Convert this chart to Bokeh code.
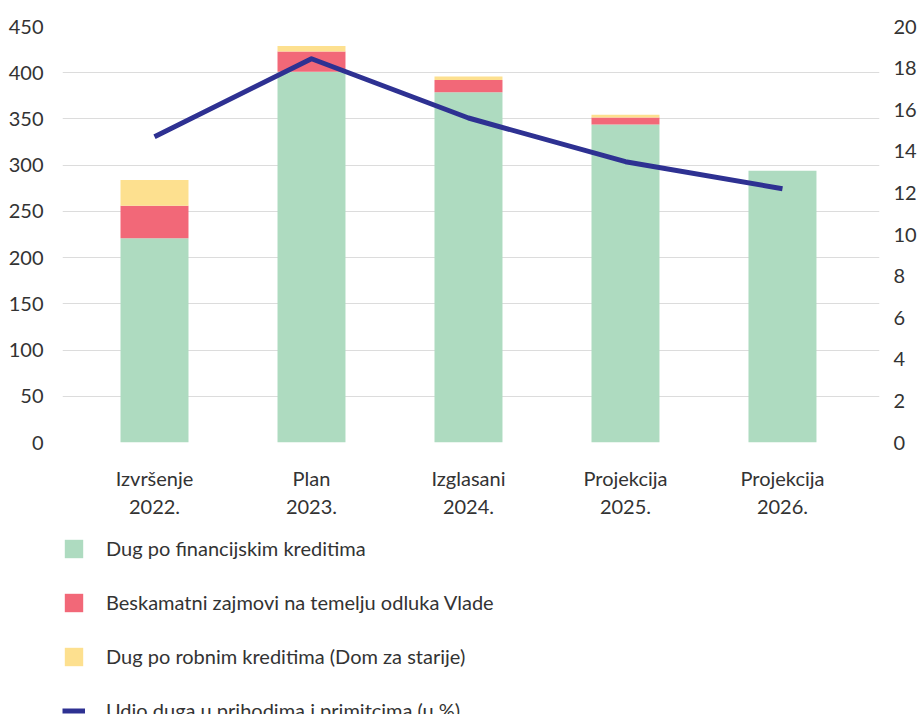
from bokeh.plotting import figure
from bokeh.layouts import column
from bokeh.models import (Range1d, LinearAxis, FixedTicker, Legend, LegendItem)
from bokeh.embed import file_html
from bokeh.resources import INLINE

categories = ["Izvršenje\n2022.", "Plan\n2023.", "Izglasani\n2024.", "Projekcija\n2025.", "Projekcija\n2026."]
financijski = [221, 401, 379, 344, 294]
beskamatni = [35, 22, 13, 7.5, 0]
robni = [28, 6, 4, 3, 0]
udio = [14.7, 18.45, 15.6, 13.5, 12.2]
left_ticks = [0, 50, 100, 150, 200, 250, 300, 350, 400, 450]
right_ticks = [0, 2, 4, 6, 8, 10, 12, 14, 16, 18, 20]
legend_labels = ["Dug po financijskim kreditima",
                 "Beskamatni zajmovi na temelju odluka Vlade",
                 "Dug po robnim kreditima (Dom za starije)",
                 "Udio duga u prihodima i primitcima (u %)"]

FONT = "Lato"
TXT = "#333333"
GREEN = "#AEDBC0"
RED = "#F26878"
YELLOW = "#FDE08F"
NAVY = "#2E3192"

xs = list(range(len(categories)))

p = figure(frame_width=817, frame_height=416, output_backend="svg", toolbar_location=None,
           x_range=Range1d(-0.586, 4.618), y_range=Range1d(0, 450),
           min_border_left=62, min_border_right=32, min_border_top=26,
           min_border_bottom=80)
p.outline_line_color = None
p.extra_y_ranges = {"pct": Range1d(0, 20)}

src = dict(x=xs, fin=financijski, bes=beskamatni, rob=robni)
rs = p.vbar_stack(["fin", "bes", "rob"], x="x", width=0.433, source=src,
                  color=[GREEN, RED, YELLOW], line_color=None)
ln = p.line(xs, udio, y_range_name="pct", line_color=NAVY, line_width=5,
            line_join="round")

p.xaxis.ticker = FixedTicker(ticks=xs)
p.xaxis.major_label_overrides = {i: c for i, c in enumerate(categories)}
p.yaxis.ticker = FixedTicker(ticks=left_ticks)

ra = LinearAxis(y_range_name="pct", ticker=FixedTicker(ticks=right_ticks))
p.add_layout(ra, "right")

for ax in p.axis:
    ax.axis_line_color = None
    ax.major_tick_line_color = None
    ax.minor_tick_line_color = None
    ax.major_label_text_font = FONT
    ax.major_label_text_font_size = "20px"
    ax.major_label_text_color = TXT
    ax.major_label_standoff = 13
p.xaxis.major_label_standoff = 17
ra.major_label_standoff = 8

p.xgrid.grid_line_color = None
p.ygrid.grid_line_color = "#dcdcdc"
p.ygrid.grid_line_width = 1

# legend panel (separate figure below the chart); swatch renderers sit outside its ranges
p2 = figure(width=911, height=192, output_backend="svg", toolbar_location=None,
            x_range=Range1d(0, 1), y_range=Range1d(0, 1),
            x_axis_location=None, y_axis_location=None,
            min_border=0, outline_line_color=None)
p2.grid.visible = False
swatches = [p2.vbar(x=[-5], top=[-5], width=1, color=c, line_color=None)
            for c in (GREEN, RED, YELLOW)]
swatches.append(p2.line(x=[-5, -4], y=[-5, -5], line_color=NAVY, line_width=5))

legend = Legend(items=[LegendItem(label=l, renderers=[r])
                       for l, r in zip(legend_labels, swatches)],
                location=(0, -8), orientation="vertical")
legend.glyph_width = 23
legend.glyph_height = 23
legend.spacing = 30
legend.label_standoff = 21
legend.label_text_font = FONT
legend.label_text_font_size = "20px"
legend.label_text_color = TXT
legend.border_line_color = None
legend.background_fill_alpha = 0
legend.padding = 0
legend.margin = 0
legend.label_height = 23
p2.add_layout(legend)

layout = column(p, p2, spacing=0)
open("out.html", "w").write(file_html(layout, INLINE))
